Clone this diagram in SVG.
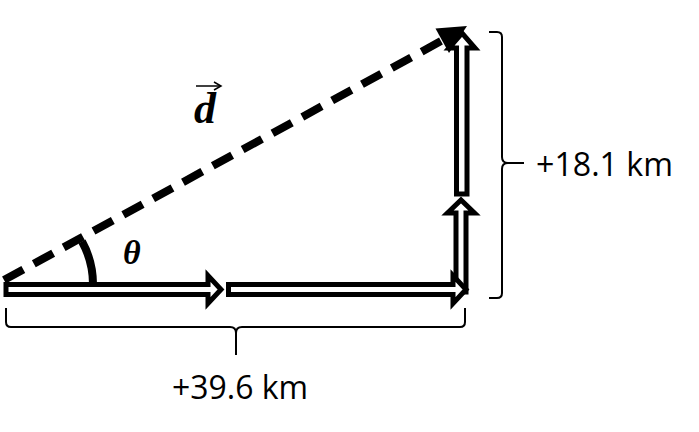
<svg xmlns="http://www.w3.org/2000/svg" width="699" height="432" viewBox="0 0 699 432">
<style>
.blk{fill:#fff;stroke:#000;stroke-width:5;stroke-linejoin:miter;stroke-miterlimit:10}
.brace{fill:none;stroke:#000;stroke-width:2}
.lbl{font-family:"Open Sans","Liberation Sans",sans-serif;font-size:32px;fill:#000}
.math{font-family:"Liberation Serif","DejaVu Serif",serif;font-style:italic;font-weight:bold;fill:#000}
</style>
<rect width="699" height="432" fill="#fff"/>
<g id="connectors">
  <path id="angle-arc" d="M93,284 A89,89 0 0 0 82,241.5" fill="none" stroke="#000" stroke-width="8"/>
  <polygon id="v1" class="blk" points="456,292 456,213 447.5,213 461,200 474.5,213 466,213 466,292"/>
  <polygon id="h1" class="blk" points="6,284.5 208,284.5 208,275.5 221,289.5 208,303.5 208,294.5 6,294.5"/>
  <polygon id="h2" class="blk" points="228.5,284.5 453,284.5 453,275.5 466,289.5 453,303.5 453,294.5 228.5,294.5"/>
  <polygon id="v2" class="blk" points="456.5,194 456.5,48 449,48 462,33 475,48 467,48 467,194"/>
  <g id="resultant">
    <line x1="4" y1="280" x2="443" y2="40" stroke="#000" stroke-width="8" stroke-dasharray="22 12"/>
    <polygon points="467,26 435.5,28.5 449,53" fill="#000"/>
  </g>
</g>
<g id="brace-bottom">
  <path class="brace" d="M6,308 L6,322 Q6,327 11,327 L230,327 Q236,327 236,333 L236,355 M236,333 Q236,327 242,327 L460,327 Q465,327 465,322 L465,308"/>
</g>
<g id="brace-right">
  <path class="brace" d="M489,32 L497,32 Q502,32 502,37 L502,157 Q502,163 508,163 L524,163 M508,163 Q502,163 502,169 L502,293 Q502,298 497,298 L489,298"/>
</g>
<g id="label-d">
  <text class="math" x="194" y="123" font-size="44">d</text>
  <line x1="196" y1="86" x2="220" y2="86" stroke="#000" stroke-width="1.5"/>
  <path d="M214,82 L221,86 L214,90" fill="none" stroke="#000" stroke-width="1.5"/>
</g>
<g id="label-theta">
  <text class="math" x="123" y="264" font-size="34">θ</text>
</g>
<g id="label-x">
  <text class="lbl" x="172" y="399" textLength="136" lengthAdjust="spacingAndGlyphs">+39.6 km</text>
</g>
<g id="label-y">
  <text class="lbl" x="536" y="176" textLength="137" lengthAdjust="spacingAndGlyphs">+18.1 km</text>
</g>
</svg>
